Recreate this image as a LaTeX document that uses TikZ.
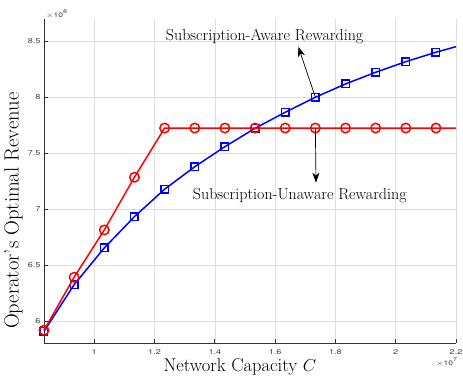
\documentclass[tikz,border=0pt]{standalone}
\usepackage{fontspec}
\usepackage{graphicx}
\newfontfamily\tickfont{TeX Gyre Heros}
\usetikzlibrary{arrows.meta}
\newcommand{\widetick}[1]{\scalebox{1.3}[1]{#1}}
\tikzset{
  gridline/.style={draw=black!13, line width=0.6pt},
  axisline/.style={draw=black!80, line width=0.8pt},
  ticklab/.style={inner sep=0pt, text=black!75, font=\tickfont\fontsize{7}{8}\selectfont},
  explab/.style={inner sep=0pt, text=black!75, font=\tickfont\fontsize{6.5}{7}\selectfont},
  bluemark/.style={draw=blue, line width=1.5pt, rectangle, minimum size=7.5pt, inner sep=0pt},
  redmark/.style={draw=red, line width=1.5pt, circle, minimum size=9.5pt, inner sep=0pt},
  blueline/.style={draw=blue, line width=1.5pt},
  redline/.style={draw=red, line width=1.5pt},
  annot/.style={inner sep=0pt, font=\fontsize{16}{19}\selectfont},
  pointer/.style={draw=black, line width=0.7pt, -{Stealth[length=10pt,width=7pt,inset=3pt]}},
}
\begin{document}
\begin{tikzpicture}[x=1pt,y=1pt]
\useasboundingbox (0,0) rectangle (463,375);
\begin{scope}[x=301.5pt,y=112pt,shift={(-207.24pt,-618.27pt)}]
  % grid
  \foreach \v in {1,1.2,1.4,1.6,1.8,2,2.2}
    \draw[gridline] (\v,5.806) -- (\v,8.7);
  \foreach \u in {6,6.5,7,7.5,8,8.5}
    \draw[gridline] (0.8333,\u) -- (2.2,\u);
  % axes
  \coordinate (ytop) at (0.8333,8.7);
  \coordinate (origin) at (0.8333,5.806);
  \coordinate (xend) at (2.2,5.806);
  \draw[axisline] (ytop) -- (origin) -- (xend);
  \foreach \v [count=\i] in {1,1.2,1.4,1.6,1.8,2,2.2} {
    \draw[axisline] (\v,5.806) -- ++(0,4pt);
    \node[ticklab, anchor=base] (xt\i) at ([yshift=-12pt]\v,5.806) {\widetick{\v}};
  }
  \foreach \u [count=\i] in {6,6.5,7,7.5,8,8.5} {
    \draw[axisline] (0.8333,\u) -- ++(4pt,0);
    \node[ticklab, anchor=east] (yt\i) at ([xshift=-3.3pt]0.8333,\u) {\widetick{\u}};
  }
  % blue data
  \foreach \u [count=\i] in {5.91,6.327,6.655,6.934,7.179,7.380,7.559,7.723,7.866,8.0,8.119,8.223,8.318,8.402}
    \node[bluemark] (b\i) at ({0.8333+0.1*(\i-1)},\u) {};
  \coordinate (bend) at (2.2,8.452);
  \draw[blueline] (b1.center) \foreach \i in {2,...,14} { -- (b\i.center) } -- (bend);
  % red data
  \foreach \u [count=\i] in {5.92,6.393,6.815,7.286,7.725,7.725,7.725,7.725,7.725,7.725,7.725,7.725,7.725,7.725}
    \node[redmark] (r\i) at ({0.8333+0.1*(\i-1)},\u) {};
  \coordinate (rend) at (2.2,7.725);
  \draw[redline] (r1.center) \foreach \i in {2,...,14} { -- (r\i.center) } -- (rend);
\end{scope}
% exponent labels
\node[explab, anchor=base west] (ex8) at (46,357.7) {\widetick{$\times$10}\raisebox{3.8pt}{\fontsize{5.5}{6}\selectfont\widetick{8}}};
\node[explab, anchor=base west] (ex7) at (436,10) {\widetick{$\times$10}\raisebox{3.8pt}{\fontsize{5.5}{6}\selectfont\widetick{7}}};
% annotations
\node[annot, anchor=base west] (aware) at (165.7,334.3) {Subscription-Aware Rewarding};
\node[annot, anchor=base west] (unaware) at (192.7,175.7) {Subscription-Unaware Rewarding};
\coordinate (awaretip) at (298.3,328.3);
\coordinate (unawaretip) at (316,192.3);
\draw[pointer] (b10.center) -- (awaretip);
\draw[pointer] (r10.center) -- (unawaretip);
% axis labels
\node[inner sep=0pt, anchor=base west, font=\fontsize{18.5}{22}\selectfont] (xlab) at (163.3,4) {Network Capacity $C$};
\node[inner sep=0pt, anchor=base west, rotate=90, font=\fontsize{20.5}{24}\selectfont] (ylab) at (18.5,46) {Operator's Optimal Revenue};
\end{tikzpicture}
\end{document}
